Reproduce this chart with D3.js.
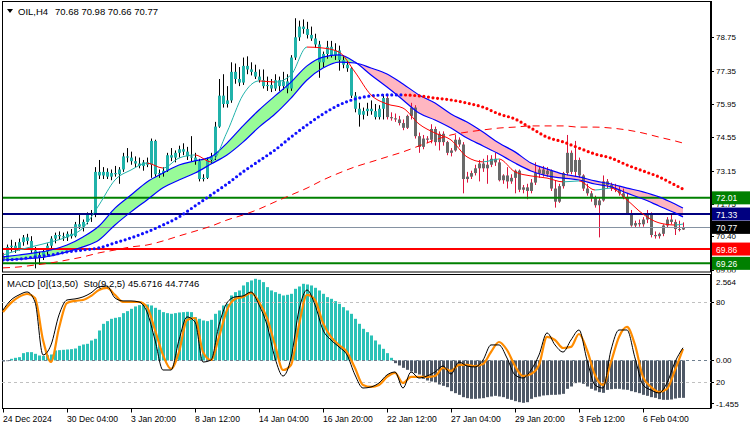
<!DOCTYPE html>
<html><head><meta charset="utf-8">
<script src="https://cdn.jsdelivr.net/npm/d3@7"></script>
<style>
body{margin:0;background:#fff;}
svg{display:block;font-family:"Liberation Sans",Arial,sans-serif;}
</style>
</head><body>
<svg id="c" width="750" height="430"></svg>
<script>
// ---------------- DATA ----------------
const symbolTitle = "OIL,H4";
const headerValues = "70.68 70.98 70.66 70.77";
const subTitle = "MACD [0](13,50)  Sto(9,2,5) 45.6716 44.7746";

const opens = [69.55,69.45,69.95,70.00,69.85,70.15,70.35,70.20,69.80,69.50,
69.60,69.75,70.00,70.30,70.45,70.40,70.35,70.50,70.40,70.90,
70.80,71.00,71.30,71.35,73.10,72.95,73.10,72.90,73.05,73.00,
73.20,73.75,73.70,73.55,73.45,73.35,73.50,73.40,74.40,73.00,
73.05,73.15,73.80,73.70,73.90,74.05,73.95,73.75,73.70,73.55,
72.80,72.85,73.60,73.75,75.00,76.30,75.95,76.10,77.30,77.00,
76.85,77.55,77.40,77.30,77.10,76.95,76.70,76.75,76.60,76.95,
76.70,76.90,76.60,77.90,78.75,79.20,79.10,78.85,78.70,78.45,
77.70,78.05,78.35,78.00,78.20,77.80,77.60,77.45,76.30,75.75,
75.50,75.65,75.75,75.65,75.40,75.75,76.20,75.40,75.35,75.30,
75.15,74.95,75.45,75.80,74.60,74.15,74.50,74.45,74.90,74.35,
74.70,74.35,73.90,74.00,74.45,74.25,72.80,72.90,73.05,73.25,
73.45,73.25,73.40,73.65,73.50,72.75,72.95,72.70,72.85,73.15,
72.35,72.45,72.30,72.65,73.05,73.20,73.00,73.15,72.40,71.85,
72.50,73.05,73.90,73.10,73.60,72.95,72.40,72.20,72.00,71.70,
71.90,72.70,72.55,72.40,72.35,72.20,72.05,71.35,70.85,70.95,
70.90,71.10,71.30,70.45,70.40,70.50,70.85,71.10,71.00,70.70,
70.68];
const highs = [69.70,70.05,70.25,70.15,70.30,70.45,70.50,70.40,69.95,69.75,
69.90,70.10,70.40,70.55,70.60,70.55,70.60,70.70,71.00,71.30,
71.10,71.40,71.50,73.30,73.60,73.30,73.25,73.20,73.35,73.30,
73.90,74.10,73.95,73.75,73.70,73.60,73.70,74.50,74.45,73.20,
73.30,73.90,74.10,74.00,74.20,74.30,74.15,74.60,73.90,73.65,
73.00,73.70,73.90,75.20,77.00,77.20,76.70,77.70,77.65,77.50,
77.90,77.95,77.70,77.60,77.40,77.40,77.10,77.00,77.20,77.10,
77.30,77.20,78.00,79.55,79.45,79.50,79.40,79.20,78.90,78.60,
78.15,78.60,78.60,78.50,78.40,78.00,77.75,77.50,76.45,76.00,
75.80,76.00,76.10,75.95,75.90,76.35,76.30,75.60,75.55,75.45,
75.30,75.50,76.00,75.90,74.75,74.65,74.60,75.10,75.00,74.80,
74.80,74.40,74.10,74.65,74.55,74.35,73.10,73.15,73.40,73.60,
73.65,73.80,73.80,73.90,73.60,73.00,73.30,73.00,73.20,73.20,
72.55,72.60,72.80,73.50,73.30,73.35,73.30,73.20,72.75,72.60,
73.10,74.65,74.00,74.40,73.70,73.00,72.60,72.30,72.10,72.00,
72.95,72.80,72.65,72.60,72.50,72.40,72.20,71.50,71.05,71.10,
71.20,71.50,71.40,70.60,70.55,70.90,71.20,71.30,71.10,71.05,
70.98];
const lows = [69.35,69.40,69.75,69.70,69.80,70.00,70.05,69.70,69.05,69.20,
69.40,69.60,69.90,70.10,70.25,70.20,70.20,70.30,70.35,70.70,
70.60,70.90,71.00,71.20,72.80,72.80,72.80,72.75,72.90,72.60,
73.10,73.50,73.40,73.30,73.25,73.15,73.30,72.85,72.90,72.85,
72.90,73.10,73.55,73.50,73.70,73.80,73.60,73.55,73.40,72.70,
72.70,72.80,73.45,73.60,74.95,75.80,75.80,76.00,76.80,76.70,
76.75,77.20,77.15,77.00,76.85,76.60,76.50,76.45,76.50,76.50,
76.55,76.40,76.50,77.80,78.60,78.90,78.70,78.60,78.30,77.05,
77.50,77.85,77.90,77.80,77.35,77.45,77.30,76.20,75.60,75.00,
75.30,75.45,75.50,75.30,75.30,75.30,75.30,75.25,75.20,75.05,
74.85,74.90,75.30,74.50,73.90,74.05,74.30,74.30,74.20,74.00,
74.20,73.80,73.75,73.95,74.15,72.20,72.65,72.80,72.95,72.70,
73.10,72.60,73.30,73.35,72.70,72.60,72.40,72.60,72.20,72.25,
72.20,71.95,72.20,72.55,72.85,72.90,72.90,72.30,71.60,71.80,
72.40,72.95,73.00,72.90,72.85,72.30,72.10,71.85,71.60,70.35,
71.85,72.40,72.30,72.25,72.10,71.95,71.30,70.80,70.75,70.80,
70.80,70.95,70.35,70.30,70.30,70.40,70.75,70.90,70.45,70.60,
70.66];
const closes = [69.45,69.95,70.00,69.85,70.15,70.35,70.20,69.80,69.50,69.60,
69.75,70.00,70.30,70.45,70.40,70.35,70.50,70.40,70.90,70.80,
71.00,71.30,71.35,73.10,72.95,73.10,72.90,73.05,73.00,73.20,
73.75,73.70,73.55,73.45,73.35,73.50,73.40,74.40,73.00,73.05,
73.15,73.80,73.70,73.90,74.05,73.95,73.75,73.70,73.55,72.80,
72.85,73.60,73.75,75.00,76.30,75.95,76.10,77.30,77.00,76.85,
77.55,77.40,77.30,77.10,76.95,76.70,76.75,76.60,76.95,76.70,
76.90,76.60,77.90,78.75,79.20,79.10,78.85,78.70,78.45,77.70,
78.05,78.35,78.00,78.20,77.80,77.60,77.45,76.30,75.75,75.50,
75.65,75.75,75.65,75.40,75.75,76.20,75.40,75.35,75.30,75.15,
74.95,75.45,75.80,74.60,74.15,74.50,74.45,74.90,74.35,74.70,
74.35,73.90,74.00,74.45,74.25,72.80,72.90,73.05,73.25,73.45,
73.25,73.40,73.65,73.50,72.75,72.95,72.70,72.85,73.15,72.35,
72.45,72.30,72.65,73.05,73.20,73.00,73.15,72.40,71.85,72.50,
73.05,73.90,73.10,73.60,72.95,72.40,72.20,72.00,71.70,71.90,
72.70,72.55,72.40,72.35,72.20,72.05,71.35,70.85,70.95,70.90,
71.10,71.30,70.45,70.40,70.50,70.85,71.10,71.00,70.70,70.68,
70.77];
// bars painted in the "up-trend" colour (first and last bar index, inclusive)
const upTrendBars = [1, 95];

// moving averages, sampled every 4th bar (bars 0,4,...,168) plus the last bar 170
const maBars = [0,4,8,12,16,20,24,28,32,36,40,44,48,52,56,60,64,68,72,76,80,84,88,92,96,100,104,108,112,116,120,124,128,132,136,140,144,148,152,156,160,164,168,170];
const fastMA = [69.61,69.82,69.99,70.16,70.37,70.75,71.71,72.76,73.18,73.47,73.26,73.68,73.81,73.52,74.77,76.33,76.92,76.87,77.17,78.34,78.30,78.13,77.29,76.33,75.95,75.78,75.11,74.73,74.44,73.73,73.52,73.64,73.10,72.93,72.84,72.68,72.72,72.34,72.42,71.92,71.33,70.96,70.87,70.91];
const bandFast = [69.53,69.61,69.70,69.82,70.03,70.37,70.83,71.58,72.13,72.68,73.05,73.39,73.56,73.73,74.31,75.03,75.70,76.29,76.87,77.55,77.92,78.01,77.71,77.17,76.66,76.12,75.57,75.28,74.94,74.52,74.19,73.85,73.47,73.14,72.93,72.84,72.76,72.59,72.47,72.21,71.96,71.67,71.38,71.21];
const bandSlow = [69.40,69.44,69.48,69.57,69.74,69.95,70.24,70.87,71.42,71.92,72.43,72.76,73.05,73.43,73.81,74.35,74.98,75.53,76.20,76.96,77.46,77.71,77.67,77.46,77.21,76.79,76.33,75.99,75.53,75.19,74.77,74.31,73.94,73.47,73.22,73.01,72.89,72.72,72.59,72.42,72.26,72.05,71.75,71.58];
const dottedMA = [69.40,69.44,69.53,69.61,69.74,69.82,69.91,70.12,70.33,70.58,70.87,71.21,71.67,72.13,72.59,73.10,73.56,74.02,74.56,75.07,75.53,75.91,76.16,76.29,76.33,76.33,76.29,76.20,76.12,75.99,75.82,75.53,75.32,74.94,74.56,74.36,74.10,73.85,73.68,73.39,73.14,72.89,72.55,72.38];
const longMA = [69.07,69.11,69.19,69.28,69.40,69.53,69.70,69.82,69.95,70.03,70.20,70.41,70.61,70.82,71.08,71.29,71.54,71.84,72.13,72.42,72.76,73.05,73.31,73.52,73.73,73.94,74.19,74.44,74.65,74.77,74.86,74.94,74.98,75.03,75.03,75.03,74.98,74.98,74.94,74.86,74.73,74.56,74.40,74.31];

// horizontal levels and last price
const levelPrices = [72.01, 71.33, 69.86, 69.26];
const lastPrice = 70.77;
const priceTicks = [78.75, 77.35, 75.95, 74.55, 73.15, 71.75, 70.40, 69.00];

// time axis
const timeLabelBars = [0,16,32,48,64,80,96,112,128,144,160];
const timeLabels = ["24 Dec 2024","30 Dec 04:00","3 Jan 20:00","8 Jan 12:00","14 Jan 04:00","16 Jan 20:00","22 Jan 12:00","27 Jan 04:00","29 Jan 20:00","3 Feb 12:00","6 Feb 04:00"];

// sub window: MACD histogram (one per bar)
const macdHist = [-0.03,-0.02,0.05,0.08,0.10,0.22,0.25,0.25,0.20,0.15,
0.14,0.16,0.18,0.30,0.31,0.32,0.33,0.34,0.36,0.44,
0.48,0.50,0.60,0.65,0.90,1.10,1.18,1.25,1.28,1.30,
1.42,1.48,1.55,1.62,1.66,1.70,1.68,1.65,1.58,1.52,
1.45,1.42,1.40,1.42,1.44,1.45,1.46,1.45,1.30,1.25,
1.20,1.18,1.22,1.40,1.50,1.65,1.70,1.95,2.05,2.10,
2.25,2.35,2.40,2.45,2.42,2.35,2.20,2.10,2.05,2.00,
1.95,1.97,2.00,2.15,2.22,2.30,2.28,2.25,2.18,2.10,
2.00,1.90,1.85,1.78,1.70,1.60,1.50,1.40,1.25,1.10,
0.95,0.85,0.75,0.60,0.48,0.35,0.22,0.08,-0.08,-0.15,
-0.22,-0.28,-0.33,-0.38,-0.42,-0.55,-0.60,-0.63,-0.66,-0.72,
-0.76,-0.80,-0.92,-0.98,-1.03,-1.10,-1.13,-1.15,-1.15,-1.14,
-1.13,-1.10,-1.08,-1.06,-1.08,-1.10,-1.15,-1.18,-1.22,-1.25,
-1.27,-1.25,-1.15,-1.10,-1.08,-1.05,-1.04,-1.03,-1.03,-1.02,
-1.00,-0.85,-0.78,-0.68,-0.66,-0.70,-0.78,-0.85,-0.90,-0.95,
-0.97,-0.88,-0.86,-0.85,-0.85,-0.87,-0.88,-0.92,-0.95,-0.98,
-1.03,-1.06,-1.10,-1.12,-1.16,-1.18,-1.18,-1.17,-1.14,-1.12,
-1.12];
const macdMax = 2.564, macdMin = -1.455;

// stochastic, sampled every 2nd bar
const stoBars = [0,2,4,6,8,10,12,14,16,18,20,22,24,26,28,30,32,34,36,38,40,42,44,46,48,50,52,54,56,58,60,62,64,66,68,70,72,74,76,78,80,82,84,86,88,90,92,94,96,98,100,102,104,106,108,110,112,114,116,118,120,122,124,126,128,130,132,134,136,138,140,142,144,146,148,150,152,154,156,158,160,162,164,166,168,170];
const stoMain = [74.0,81.5,85.3,87.5,80.0,40.3,47.8,70.3,81.5,82.3,83.8,86.8,91.3,92.0,83.0,80.8,80.8,80.0,72.5,51.5,29.0,29.0,51.5,68.8,65.0,35.0,36.5,62.8,79.3,83.8,84.5,87.5,77.8,62.8,38.0,24.5,38.0,74.0,89.0,77.8,59.0,51.5,46.3,40.3,25.3,15.5,16.3,19.3,25.3,27.5,15.5,27.5,23.0,24.5,27.5,32.0,26.0,35.0,32.0,31.3,36.5,47.8,47.8,38.0,25.3,23.0,29.0,40.3,56.8,47.8,42.5,51.5,59.0,36.5,17.8,15.5,44.0,59.0,59.0,38.0,17.8,14.0,11.8,19.3,35.0,45.67];
const stoSignal = [72.5,79.3,83.8,86.0,83.0,51.5,35.0,60.5,79.3,80.8,81.5,84.5,89.0,90.5,85.3,80.0,80.0,80.0,76.3,59.0,40.3,29.8,42.5,66.5,68.0,42.5,36.5,53.8,74.0,82.3,83.8,86.8,80.0,68.0,47.8,29.0,32.8,62.8,85.3,81.5,64.3,53.8,47.8,42.5,30.5,17.8,16.3,17.8,23.8,26.8,19.3,23.8,23.8,23.8,24.5,30.5,28.3,32.8,32.8,32.0,33.5,42.5,50.0,44.0,32.0,24.5,26.0,32.8,53.8,51.5,45.5,46.3,56.0,44.0,25.3,17.8,35.0,53.8,61.3,47.8,23.8,16.3,12.5,14.8,29.0,44.77];
const stoLevels = [80, 20];

// ---------------- DRAWING ----------------
const svg = d3.select("#c");
const defs = svg.append("defs");
const L = 2, R = 711, mainTop = 2, mainBot = 272.5, subTop = 274.5, subBot = 408.5;

const x = d3.scaleLinear().domain([0, 170]).range([3, 683]);
const y = d3.scaleLinear().domain([68.897, 80.232]).range([272, 2]);
const ym = d3.scaleLinear().domain([macdMin, macdMax]).range([409, 275]);
const ys = d3.scaleLinear().domain([0, 100]).range([408.7, 275.3]);

svg.append("rect").attr("width",750).attr("height",430).attr("fill","#fff");

defs.append("clipPath").attr("id","mainClip").append("rect")
  .attr("x",L).attr("y",mainTop).attr("width",R-L).attr("height",mainBot-mainTop);
defs.append("clipPath").attr("id","subClip").append("rect")
  .attr("x",L).attr("y",subTop).attr("width",R-L).attr("height",subBot-subTop);

function segGradient(id, idx, test, cA, cB){
  const g = defs.append("linearGradient").attr("id",id)
    .attr("gradientUnits","userSpaceOnUse")
    .attr("x1",x(0)).attr("x2",x(170)).attr("y1",0).attr("y2",0);
  const span = x(170)-x(0);
  for(let k=0;k<idx.length-1;k++){
    const c = test(k) ? cA : cB;
    g.append("stop").attr("offset",(x(idx[k])-x(0))/span).attr("stop-color",c);
    g.append("stop").attr("offset",(x(idx[k+1])-x(0))/span).attr("stop-color",c);
  }
}

const main = svg.append("g").attr("clip-path","url(#mainClip)");

segGradient("bandFill", maBars, k => bandFast[k+1] >= bandSlow[k+1], "#98fb98", "#ffb6c1");
const bandPts = maBars.map((b,k)=>({b, f:bandFast[k], s:bandSlow[k]}));
main.append("path").datum(bandPts)
  .attr("d", d3.area().x(d=>x(d.b)).y0(d=>y(d.s)).y1(d=>y(d.f)).curve(d3.curveMonotoneX))
  .attr("fill","url(#bandFill)");

const candles = opens.map((o,i)=>({i,o,h:highs[i],l:lows[i],c:closes[i],
  up: i>=upTrendBars[0] && i<=upTrendBars[1]}));
const cg = main.append("g");
cg.selectAll("line").data(candles).join("line")
  .attr("x1",d=>Math.round(x(d.i))+0.5).attr("x2",d=>Math.round(x(d.i))+0.5)
  .attr("y1",d=>y(d.h)).attr("y2",d=>y(d.l))
  .attr("stroke",d=>d.up?"#000":"#dc143c").attr("stroke-width",1);
cg.selectAll("rect").data(candles).join("rect")
  .attr("x",d=>Math.round(x(d.i))-1).attr("width",3)
  .attr("y",d=>y(Math.max(d.o,d.c)))
  .attr("height",d=>Math.max(1,Math.abs(y(d.o)-y(d.c))))
  .attr("fill",d=>d.up?"#20b2aa":"#696969");

const levelColors = ["#008000","#000080","#ff0000","#008000"];
main.selectAll("line.lvl").data(levelPrices).join("line").attr("class","lvl")
  .attr("x1",L).attr("x2",R).attr("y1",d=>y(d)).attr("y2",d=>y(d))
  .attr("stroke",(d,i)=>levelColors[i]).attr("stroke-width",2);
main.append("line").attr("x1",L).attr("x2",R).attr("y1",Math.round(y(lastPrice))+0.5).attr("y2",Math.round(y(lastPrice))+0.5)
  .attr("stroke","#8592a2").attr("stroke-width",1);

const lineGen = arr => d3.line().x((d,k)=>x(maBars[k])).y(d=>y(d)).curve(d3.curveMonotoneX)(arr);
main.append("path").attr("d",lineGen(bandSlow)).attr("fill","none").attr("stroke","#0000ff").attr("stroke-width",1.2);
main.append("path").attr("d",lineGen(bandFast)).attr("fill","none").attr("stroke","#0000ff").attr("stroke-width",1.2);

main.append("path").attr("d",lineGen(longMA)).attr("fill","none").attr("stroke","#ff0000")
  .attr("stroke-width",1).attr("stroke-dasharray","7,5");

segGradient("dotGrad", maBars, k => dottedMA[k+1] >= dottedMA[k], "#1010ff", "#ff0000");
main.append("path").attr("d",lineGen(dottedMA)).attr("fill","none").attr("stroke","url(#dotGrad)")
  .attr("stroke-width",3.2).attr("stroke-dasharray","0,4.6").attr("stroke-linecap","round");

segGradient("fastGrad", maBars, k => fastMA[k+1] >= fastMA[k], "#20b2aa", "#ff0000");
main.append("path").attr("d",lineGen(fastMA)).attr("fill","none").attr("stroke","url(#fastGrad)").attr("stroke-width",1);

svg.append("rect").attr("x",L+0.5).attr("y",mainTop-0.5).attr("width",R-L-1).attr("height",mainBot-mainTop)
  .attr("fill","none").attr("stroke","#000").attr("stroke-width",1);
svg.append("rect").attr("x",L+0.5).attr("y",subTop).attr("width",R-L-1).attr("height",subBot-subTop)
  .attr("fill","none").attr("stroke","#000").attr("stroke-width",1);

// header
svg.append("path").attr("d","M7,9 L13,9 L10,13 Z").attr("fill","#000");
svg.append("text").attr("x",18).attr("y",14.5).attr("font-size",9.5).attr("fill","#000").text(symbolTitle);
svg.append("text").attr("x",55).attr("y",14.5).attr("font-size",9.5).attr("fill","#000").text(headerValues);

// right price axis
const axisG = svg.append("g");
defs.append("clipPath").attr("id","axClip").append("rect").attr("x",R).attr("y",0).attr("width",40).attr("height",mainBot);
const pa = axisG.append("g").attr("clip-path","url(#axClip)");
pa.selectAll("line").data(priceTicks).join("line")
  .attr("x1",R).attr("x2",R+3).attr("y1",d=>Math.round(y(d))+0.5).attr("y2",d=>Math.round(y(d))+0.5).attr("stroke","#000");
pa.selectAll("text").data(priceTicks).join("text")
  .attr("x",R+5).attr("y",d=>y(d)+3).attr("font-size",8).attr("fill","#000").text(d=>d.toFixed(2));
const boxes = levelPrices.map((v,i)=>({v, c:levelColors[i]})).concat([{v:lastPrice,c:"#000"}]);
const bx = axisG.selectAll("g.box").data(boxes).join("g").attr("class","box");
bx.append("rect").attr("x",R+1).attr("y",d=>y(d.v)-6.5).attr("width",38).attr("height",13).attr("fill",d=>d.c);
bx.append("text").attr("x",R+5).attr("y",d=>y(d.v)+3.5).attr("font-size",8.5).attr("fill","#fff").text(d=>d.v.toFixed(2));
svg.append("line").attr("x1",R+0.5).attr("x2",R+0.5).attr("y1",mainTop-1).attr("y2",subBot).attr("stroke","#000");

// ---------------- SUB WINDOW ----------------
const sub = svg.append("g").attr("clip-path","url(#subClip)");
sub.selectAll("rect").data(macdHist).join("rect")
  .attr("x",(d,i)=>Math.round(x(i))-1).attr("width",3)
  .attr("y",d=>Math.min(ym(d),ym(0))).attr("height",d=>Math.abs(ym(d)-ym(0)))
  .attr("fill",d=>d>=0?"#2ac2b7":"#4e5866");
sub.selectAll("line.lv").data(stoLevels).join("line").attr("class","lv")
  .attr("x1",L).attr("x2",R).attr("y1",d=>Math.round(ys(d))+0.5).attr("y2",d=>Math.round(ys(d))+0.5)
  .attr("stroke","#c0c0c0").attr("stroke-dasharray","3,3");
sub.append("line").attr("x1",L).attr("x2",R).attr("y1",Math.round(ym(0))+0.5).attr("y2",Math.round(ym(0))+0.5)
  .attr("stroke","#708090").attr("stroke-dasharray","3,3");
const stoLine = d3.line().x((d,k)=>x(stoBars[k])).y(d=>ys(d)).curve(d3.curveMonotoneX);
sub.append("path").attr("d",stoLine(stoSignal)).attr("fill","none").attr("stroke","#ff8c00").attr("stroke-width",2.2);
sub.append("path").attr("d",stoLine(stoMain)).attr("fill","none").attr("stroke","#000").attr("stroke-width",1);

svg.append("text").attr("x",7).attr("y",287).attr("font-size",9.5).attr("fill","#000").attr("xml:space","preserve").text(subTitle);

const subLabels = [
  {t:macdMax.toFixed(3), y:ym(macdMax)+10},
  {t:"80", y:ys(80)+3},
  {t:"0.00", y:ym(0)+3},
  {t:"20", y:ys(20)+3},
  {t:macdMin.toFixed(3), y:ym(macdMin)-2.5}];
svg.selectAll("text.sl").data(subLabels).join("text").attr("class","sl")
  .attr("x",R+5).attr("y",d=>d.y).attr("font-size",8).attr("fill","#000").text(d=>d.t);
svg.selectAll("line.st").data([ys(80),ym(0),ys(20),ym(macdMin)-6]).join("line").attr("class","st")
  .attr("x1",R).attr("x2",R+3).attr("y1",d=>Math.round(d)+0.5).attr("y2",d=>Math.round(d)+0.5).attr("stroke","#000");

// time axis
svg.selectAll("line.tt").data(timeLabelBars).join("line").attr("class","tt")
  .attr("x1",d=>Math.round(x(d))+0.5).attr("x2",d=>Math.round(x(d))+0.5).attr("y1",subBot).attr("y2",subBot+4).attr("stroke","#000");
svg.selectAll("text.tl").data(timeLabelBars).join("text").attr("class","tl")
  .attr("x",d=>x(d)).attr("y",421.5).attr("font-size",8.6).attr("fill","#000")
  .text((d,i)=>timeLabels[i]);
</script>
</body></html>
